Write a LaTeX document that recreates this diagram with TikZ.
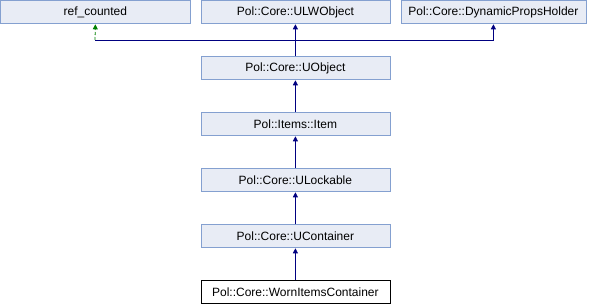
\documentclass[tikz,border=0pt]{standalone}
\usepackage{fontspec}
\setmainfont{Liberation Sans}
\usetikzlibrary{arrows.meta}
\definecolor{boxfill}{HTML}{E8ECF5}
\definecolor{boxline}{HTML}{84A0D0}
\definecolor{edgeblue}{HTML}{000080}
\definecolor{edgegreen}{HTML}{008000}
\begin{document}
\begin{tikzpicture}[x=1pt,y=-1pt,
  cls/.style={draw=boxline,fill=boxfill,line width=0.8pt,minimum width=189pt,minimum height=23pt,inner sep=0pt,font=\fontsize{12}{14}\selectfont,anchor=north west},
  curcls/.style={cls,draw=black,fill=white},
  inh/.style={draw=edgeblue,line width=0.8pt,-{Triangle[length=5pt,width=5pt]}},
  prot/.style={draw=edgegreen,line width=0.8pt,dash pattern=on 3pt off 2pt,-{Triangle[length=5pt,width=5pt]}}]
\useasboundingbox (0,0) rectangle (590,304);
\node[cls,minimum width=189pt] (rc) at (0.5,0.5) {ref\_counted};
\node[cls] (ulw) at (200.5,0.5) {Pol::Core::ULWObject};
\node[cls,minimum width=185pt] (dph) at (400.5,0.5) {Pol::Core::DynamicPropsHolder};
\node[cls] (uobj) at (200.5,56.5) {Pol::Core::UObject};
\node[cls] (item) at (200.5,112.5) {Pol::Items::Item};
\node[cls] (ulock) at (200.5,168.5) {Pol::Core::ULockable};
\node[cls] (ucont) at (200.5,224.5) {Pol::Core::UContainer};
\node[curcls] (worn) at (200.5,280.5) {Pol::Core::WornItemsContainer};
\coordinate (j) at (295,40);
\draw[inh] (uobj.north) -- (ulw.south);
\draw[inh] (j) -| (dph.south);
\draw[draw=edgeblue,line width=0.8pt] (j) -- (95,40);
\draw[prot] (95,40) -- (rc.south);
\draw[inh] (item.north) -- (uobj.south);
\draw[inh] (ulock.north) -- (item.south);
\draw[inh] (ucont.north) -- (ulock.south);
\draw[inh] (worn.north) -- (ucont.south);
\end{tikzpicture}
\end{document}
